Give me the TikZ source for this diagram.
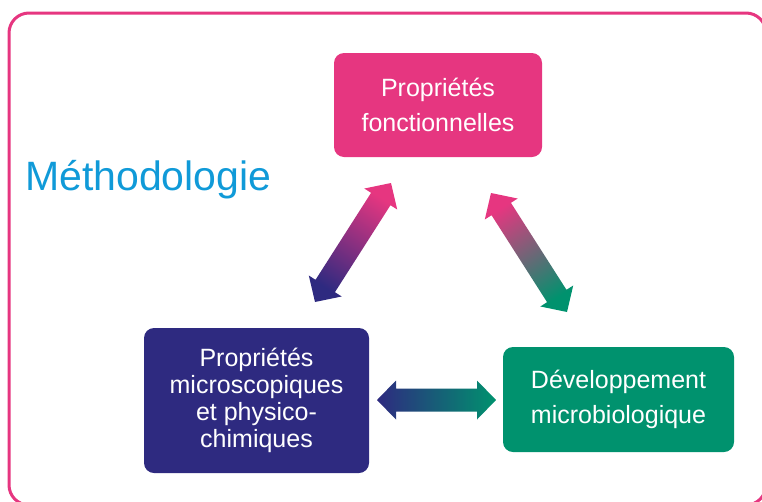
\documentclass[tikz,border=0pt]{standalone}
\usepackage{fontspec}
\setmainfont{Liberation Sans}
\usetikzlibrary{calc}
\definecolor{mpink}{RGB}{230,54,128}
\definecolor{mindigo}{RGB}{46,42,128}
\definecolor{mgreen}{RGB}{0,146,110}
\definecolor{mblue}{RGB}{16,154,216}
\newcommand\dblarr[2]{(#1)
 -- ($(#1)!19pt!(#2)!19.5pt!90:(#2)$)
 -- ($(#1)!19pt!(#2)!11.5pt!90:(#2)$)
 -- ($(#2)!19pt!(#1)!11.5pt!-90:(#1)$)
 -- ($(#2)!19pt!(#1)!19.5pt!-90:(#1)$)
 -- (#2)
 -- ($(#2)!19pt!(#1)!19.5pt!90:(#1)$)
 -- ($(#2)!19pt!(#1)!11.5pt!90:(#1)$)
 -- ($(#1)!19pt!(#2)!11.5pt!-90:(#2)$)
 -- ($(#1)!19pt!(#2)!19.5pt!-90:(#2)$)
 -- cycle}
\begin{document}
\begin{tikzpicture}[x=1pt,y=-1pt,
  box/.style={rounded corners=10pt, text=white, align=center, inner sep=0pt},
  twoline/.style={font=\fontsize{25}{35}\selectfont},
  fourline/.style={font=\fontsize{25}{27}\selectfont}]
\useasboundingbox (0,0) rectangle (762,501);
\draw[mpink, line width=3pt, rounded corners=20pt] (9,13) rectangle (766,505);
\node[anchor=base west, inner sep=0pt, text=mblue, font=\fontsize{41}{49}\selectfont] (title) at (25,190) {Méthodologie};
\node[box, twoline, fill=mpink, minimum width=208pt, minimum height=104pt] (pf) at (438,105) {Propriétés\\fonctionnelles};
\node[box, fourline, fill=mindigo, minimum width=225pt, minimum height=145pt] (pm) at (256.5,400.5) {Propriétés\\microscopiques\\et physico-\\chimiques};
\node[box, twoline, fill=mgreen, minimum width=231pt, minimum height=105pt] (dm) at (618.5,399.5) {Développement\\microbiologique};
\coordinate (a1s) at (315,302);
\coordinate (a1e) at (391,183);
\coordinate (a2s) at (491,193);
\coordinate (a2e) at (567,312);
\coordinate (a3s) at (377,400);
\coordinate (a3e) at (496,400);
\shade[top color=mpink, bottom color=mindigo, shading angle=-33] \dblarr{a1s}{a1e};
\shade[top color=mpink, bottom color=mgreen, shading angle=33] \dblarr{a2s}{a2e};
\shade[left color=mindigo, right color=mgreen] \dblarr{a3s}{a3e};
\end{tikzpicture}
\end{document}
